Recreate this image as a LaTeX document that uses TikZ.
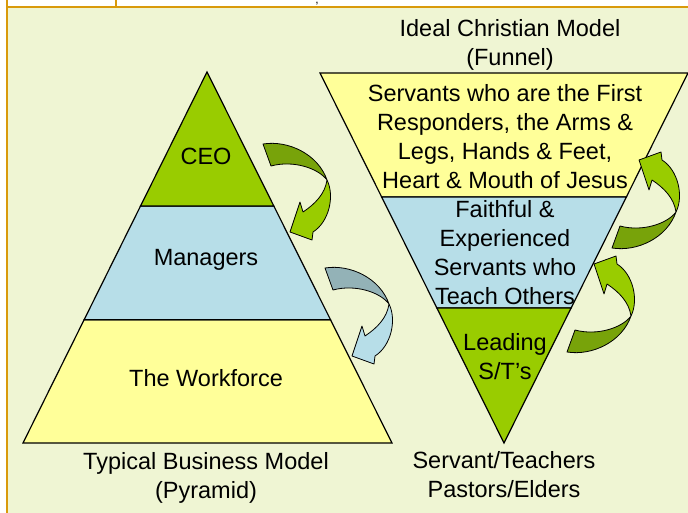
\documentclass[tikz,border=0pt]{standalone}
\usepackage{fontspec}
\setmainfont{Liberation Sans}
\usetikzlibrary{calc}
\definecolor{panel}{HTML}{EFF5D3}
\definecolor{frame}{HTML}{D99A0B}
\definecolor{leaf}{HTML}{99CC00}
\definecolor{leafdark}{HTML}{78A30A}
\definecolor{sky}{HTML}{B7DEE8}
\definecolor{skydark}{HTML}{93B2B7}
\definecolor{cream}{HTML}{FFFF99}
\begin{document}
\begin{tikzpicture}[x=1pt,y=-1pt]
	\tikzset{
		layer/.style={draw=black, line width=1.2pt, line join=miter},
		twist/.style={draw=black, line width=0.8pt, line join=round},
		caption/.style={align=center, font=\fontsize{23.5}{29}\selectfont, inner sep=0pt},
	}
	\useasboundingbox (0,0) rectangle (688,513);
	% page and table frame
	\fill[white] (0,0) rectangle (688,513);
	\fill[panel] (7,7) rectangle (688,513);
	\draw[frame, line width=2pt] (7,0) -- (7,513);
	\draw[frame, line width=2pt] (7,7) -- (688,7);
	\draw[frame, line width=2pt] (116,0) -- (116,7);
	\node[inner sep=0pt, font=\fontsize{12}{12}\selectfont, anchor=base] (cut) at (317,3.5) {,};
	
	\coordinate (pt) at (207,72);  % pyramid top
	\coordinate (pl) at (23,443);  % pyramid left
	\coordinate (pr) at (392,443); % pyramid right
	\coordinate (fl) at (320,73);  % funnel left
	\coordinate (fr) at (688,73);  % funnel right
	\coordinate (fb) at (504,443); % funnel bottom
	\def\TwistArrow#1#2#3#4{% shift, flip, back colour, front colour
		\begin{scope}[shift={#1}, yscale=#2]
			\filldraw[twist, fill=#3] (0,0) .. controls (25,-4) and (55,10) .. (64,36)
				.. controls (55,24) and (30,16) .. (8,22) -- cycle;
			\filldraw[twist, fill=#4] (64,36) .. controls (72,52) and (66,78) .. (50,88)
				-- (49,96) -- (27,88) -- (37,58) -- (40,68)
				.. controls (52,60) and (62,50) .. (64,36) -- cycle;
		\end{scope}}
	
	% The pyramid, bottom band first.
	\filldraw[layer, fill=cream] ($(pt)!0.668!(pl)$) -- (pl) -- (pr) -- ($(pt)!0.668!(pr)$) -- cycle;
	\filldraw[layer, fill=sky] ($(pt)!0.361!(pl)$) -- ($(pt)!0.668!(pl)$) -- ($(pt)!0.668!(pr)$) -- ($(pt)!0.361!(pr)$) -- cycle;
	\filldraw[layer, fill=leaf] (pt) -- ($(pt)!0.361!(pl)$) -- ($(pt)!0.361!(pr)$) -- cycle;
	
	% The funnel, top band first.
	\filldraw[layer, fill=cream] (fl) -- (fr) -- ($(fr)!0.335!(fb)$) -- ($(fl)!0.335!(fb)$) -- cycle;
	\filldraw[layer, fill=sky] ($(fl)!0.335!(fb)$) -- ($(fr)!0.335!(fb)$) -- ($(fr)!0.635!(fb)$) -- ($(fl)!0.635!(fb)$) -- cycle;
	\filldraw[layer, fill=leaf] ($(fl)!0.635!(fb)$) -- ($(fr)!0.635!(fb)$) -- (fb) -- cycle;
	
	% Band labels.
	\node[caption] (ceo) at (206,156) {CEO};
	\node[caption] (managers) at (206,260) {Managers};
	\node[caption] (workforce) at (206,378) {The Workforce};
	\node[caption] (first) at (505,137) {Servants who are the First\\Responders, the Arms \&\\Legs, Hands \& Feet,\\Heart \& Mouth of Jesus};
	\node[caption] (faithful) at (505,253) {Faithful \&\\Experienced\\Servants who\\Teach Others};
	\node[caption] (leading) at (505,357) {Leading\\S/T's};
	
	% Titles.
	\node[caption] (ideal) at (510,45) {Ideal Christian Model\\(Funnel)};
	\node[caption] (typical) at (206,478) {Typical Business Model\\(Pyramid)};
	\node[caption] (elders) at (504,475) {Servant/Teachers\\Pastors/Elders};
	
	% Twisted arrows.
	\TwistArrow{(263,144)}{1}{leafdark}{leaf}
	\TwistArrow{(325,268)}{1}{skydark}{sky}
	\TwistArrow{(612,248)}{-1}{leafdark}{leaf}
	\TwistArrow{(567,352)}{-1}{leafdark}{leaf}
\end{tikzpicture}
\end{document}
